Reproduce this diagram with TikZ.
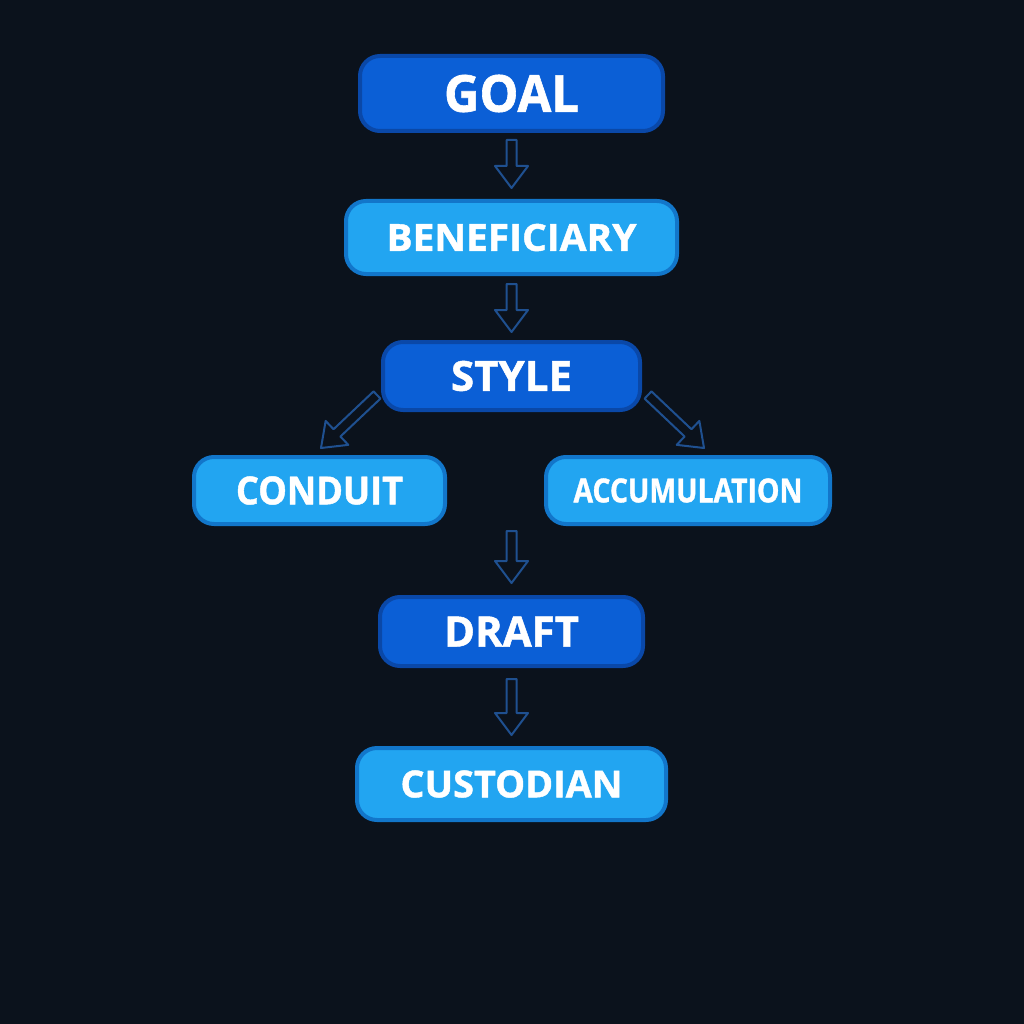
\documentclass[tikz,border=0pt]{standalone}
\usepackage{fontspec}
\usepackage{graphicx}
\setmainfont{Open Sans}
\newfontfamily\heavyfont{Open Sans}[BoldFeatures={FakeBold=1.2}]
\usetikzlibrary{calc}
\definecolor{bg}{HTML}{0B121C}
\definecolor{darkfill}{HTML}{0B5FD6}
\definecolor{darkedge}{HTML}{0A48A8}
\definecolor{lightfill}{HTML}{22A5F1}
\definecolor{lightedge}{HTML}{1276CA}
\definecolor{arrcol}{HTML}{1F5090}
\newcommand\fittxt[3]{\resizebox{#1pt}{#2pt}{\heavyfont\bfseries #3}}
\newcommand\harrow[2]{%
  \coordinate (hb) at ($(#2)!22pt!(#1)$);
  \draw[arrline] (#2) -- ($(hb)!16.5pt!-90:(#1)$) -- ($(hb)!5pt!-90:(#1)$)
    -- ($(#1)!5pt!90:(#2)$) -- ($(#1)!5pt!-90:(#2)$)
    -- ($(hb)!5pt!90:(#1)$) -- ($(hb)!16.5pt!90:(#1)$) -- cycle;}
\tikzset{
  boxbase/.style={rounded corners=20pt, line width=4pt, inner sep=0pt, text=white},
  darkbox/.style={boxbase, fill=darkfill, draw=darkedge},
  lightbox/.style={boxbase, fill=lightfill, draw=lightedge},
  arrline/.style={draw=arrcol, line width=2pt, line join=round}
}
\begin{document}
\begin{tikzpicture}[x=1pt,y=1pt]
\fill[bg] (0,0) rectangle (1024,-1024);
\useasboundingbox (0,0) rectangle (1024,-1024);

\node[darkbox, minimum width=303pt, minimum height=75pt] (goal) at (511.5,-93.5) {\fittxt{135}{37}{GOAL}};
\node[lightbox, minimum width=331pt, minimum height=73pt] (ben) at (511.5,-237.5) {\fittxt{250}{27}{BENEFICIARY}};
\node[darkbox, minimum width=257pt, minimum height=68pt] (style) at (511.5,-376) {\fittxt{121}{30}{STYLE}};
\node[lightbox, minimum width=251pt, minimum height=67pt] (conduit) at (319.5,-490.5) {\fittxt{167}{28}{CONDUIT}};
\node[lightbox, minimum width=284pt, minimum height=67pt] (accum) at (688,-490.5) {\fittxt{229}{24}{ACCUMULATION}};
\node[darkbox, minimum width=263pt, minimum height=69pt] (draft) at (511.5,-631.5) {\fittxt{135}{30}{DRAFT}};
\node[lightbox, minimum width=309pt, minimum height=72pt] (cust) at (511.5,-784) {\fittxt{222}{27}{CUSTODIAN}};

\coordinate (a1s) at ([yshift=-7pt]goal.south);
\coordinate (a1e) at ([yshift=11pt]ben.north);
\coordinate (a2s) at ([yshift=-8pt]ben.south);
\coordinate (a2e) at ([yshift=8pt]style.north);
\coordinate (a3s) at ([xshift=-4pt,yshift=-19pt]style.west);
\coordinate (a3e) at ([xshift=1.5pt,yshift=7pt]conduit.north);
\coordinate (a4s) at ([xshift=6pt,yshift=-19pt]style.east);
\coordinate (a4e) at ([xshift=16pt,yshift=7pt]accum.north);
\coordinate (a5s) at ([yshift=64pt]draft.north);
\coordinate (a5e) at ([yshift=12pt]draft.north);
\coordinate (a6s) at ([yshift=-11pt]draft.south);
\coordinate (a6e) at ([yshift=11pt]cust.north);

\harrow{a1s}{a1e}
\harrow{a2s}{a2e}
\harrow{a3s}{a3e}
\harrow{a4s}{a4e}
\harrow{a5s}{a5e}
\harrow{a6s}{a6e}
\end{tikzpicture}
\end{document}
